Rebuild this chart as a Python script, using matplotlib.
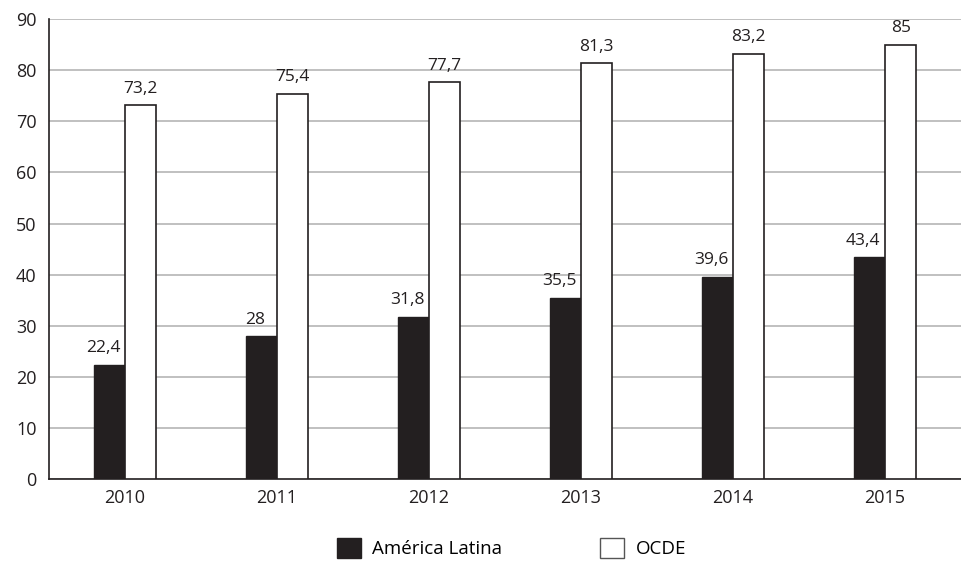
import matplotlib
matplotlib.use('Agg')
import matplotlib.pyplot as plt
import numpy as np
from matplotlib.patches import Patch

years = ['2010', '2011', '2012', '2013', '2014', '2015']
america_latina = [22.4, 28, 31.8, 35.5, 39.6, 43.4]
ocde = [73.2, 75.4, 77.7, 81.3, 83.2, 85]

plt.rcParams['font.family'] = ['Open Sans', 'DejaVu Sans']


def fmt(v):
    s = f'{v:g}'
    return s.replace('.', ',')


fig = plt.figure(figsize=(9.61, 5.76), dpi=100)
ax = fig.add_axes([0.051, 0.168, 0.949, 0.799])

x = np.arange(len(years))
w = 0.207
dark = '#231f20'

b1 = ax.bar(x - w / 2, america_latina, w, color=dark, edgecolor=dark, linewidth=1, zorder=3)
b2 = ax.bar(x + w / 2, ocde, w, color='white', edgecolor='#231f20', linewidth=1.2, zorder=3)

# black-bar labels sit a bit to the left in the original
for rects, vals, dx in ((b1, america_latina, -4.5), (b2, ocde, 0)):
    for r, v in zip(rects, vals):
        ax.annotate(fmt(v), (r.get_x() + r.get_width() / 2, v), xytext=(dx, 6),
                    textcoords='offset points', ha='center', va='bottom',
                    fontsize=12.5, color='#231f20')

ax.set_xlim(-0.5, len(years) - 0.5)
ax.set_ylim(0, 90)
ax.set_yticks(range(0, 91, 10))
ax.set_xticks(x)
ax.set_xticklabels(years)
ax.tick_params(axis='both', length=0, labelsize=13, colors='#231f20')
ax.tick_params(axis='x', pad=7)
ax.tick_params(axis='y', pad=9)

ax.yaxis.grid(True, color='#b5b5b5', linewidth=1.2, zorder=0)
ax.set_axisbelow(True)
for s in ('top', 'right'):
    ax.spines[s].set_visible(False)
for s in ('left', 'bottom'):
    ax.spines[s].set_color('#231f20')
    ax.spines[s].set_linewidth(1.2)

handles = [Patch(facecolor=dark, edgecolor=dark, label='América Latina'),
           Patch(facecolor='white', edgecolor='#555555', label='OCDE')]
fig.legend(handles=handles, loc='center', bbox_to_anchor=(0.532, 0.049), ncol=2,
           frameon=False, fontsize=13.5, handlelength=1.3, handleheight=1.3,
           columnspacing=5.2, handletextpad=0.6)

fig.savefig('out.png', dpi=100)
